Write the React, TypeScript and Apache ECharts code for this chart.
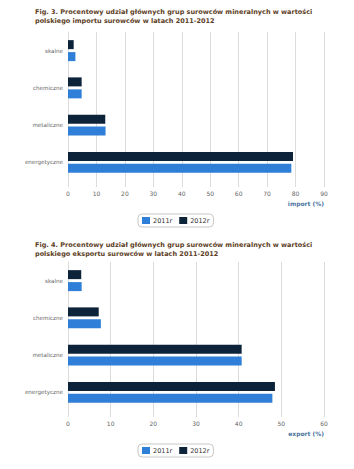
import React, { useEffect, useRef } from "react";
import * as echarts from "echarts";

const categories = ["skalne", "chemiczne", "metaliczne", "energetyczne"];
const seriesNames = ["2011r", "2012r"];
const import2011 = [2.6, 4.8, 13.2, 78.5];
const import2012 = [2.0, 4.8, 13.1, 79.1];
const export2011 = [3.2, 7.7, 40.7, 47.9];
const export2012 = [3.1, 7.2, 40.7, 48.5];
const importTicks = { min: 0, max: 90, interval: 10 };
const exportTicks = { min: 0, max: 60, interval: 10 };
const title1 = "Fig. 3. Procentowy udział głównych grup surowców mineralnych w wartości\npolskiego importu surowców w latach 2011-2012";
const title2 = "Fig. 4. Procentowy udział głównych grup surowców mineralnych w wartości\npolskiego eksportu surowców w latach 2011-2012";

const FONT = "DejaVu Sans";
const C2011 = "#2f7ed8";
const C2012 = "#0d233a";
const GRID = "#dcdcdc";

export default function App() {
  const ref = useRef<HTMLDivElement>(null);
  useEffect(() => {
    document.body.style.margin = "0";
    const chart = echarts.init(ref.current!, null, { renderer: "svg" });
    const xAxisBase = (t: any, gi: number) => ({
      type: "value",
      gridIndex: gi,
      min: t.min,
      max: t.max,
      interval: t.interval,
      axisLine: { show: false },
      axisTick: { show: true, length: 6, lineStyle: { color: GRID } },
      splitLine: { show: true, lineStyle: { color: GRID, width: 1 } },
      axisLabel: { fontFamily: FONT, fontSize: 6, color: "#666", margin: 9 },
    });
    const yAxisBase = (gi: number) => ({
      type: "category",
      gridIndex: gi,
      data: categories,
      inverse: true,
      axisLine: { show: true, lineStyle: { color: GRID } },
      axisTick: { show: false },
      axisLabel: { fontFamily: FONT, fontSize: 5.6, color: "#666", margin: 5 },
    });
    const bar = (name: string, data: number[], color: string, gi: number) => ({
      type: "bar",
      name,
      data,
      xAxisIndex: gi,
      yAxisIndex: gi,
      barWidth: 9,
      barGap: "33%",
      itemStyle: { color },
    });
    const legendBase = (top: number) => ({
      top,
      left: 138,
      orient: "horizontal",
      data: seriesNames,
      icon: "rect",
      itemWidth: 8,
      itemHeight: 7,
      itemGap: 7,
      borderColor: "#c8c8c8",
      borderWidth: 1,
      borderRadius: 4,
      padding: [3, 4, 3, 4],
      textStyle: { fontFamily: FONT, fontSize: 6.5, color: "#333", padding: [0, 0, 0, -2] },
    });
    const titleStyle = { fontFamily: FONT, fontSize: 6.5, fontWeight: "bold", color: "#5c3d24", lineHeight: 8.5 };
    chart.setOption({
      animation: false,
      backgroundColor: "#ffffff",
      title: [
        { text: title1, left: 30, top: 3, textStyle: titleStyle },
        { text: title2, left: 30, top: 236, textStyle: titleStyle },
      ],
      legend: [legendBase(214), legendBase(444)],
      grid: [
        { left: 68, right: 30, top: 32, height: 149 },
        { left: 68, right: 30, top: 262, height: 149 },
      ],
      xAxis: [xAxisBase(importTicks, 0), xAxisBase(exportTicks, 1)],
      yAxis: [yAxisBase(0), yAxisBase(1)],
      series: [
        bar(seriesNames[1], import2012, C2012, 0),
        bar(seriesNames[0], import2011, C2011, 0),
        bar(seriesNames[1], export2012, C2012, 1),
        bar(seriesNames[0], export2011, C2011, 1),
      ],
      graphic: [
        {
          type: "text",
          right: 30,
          top: 200,
          style: { text: "import (%)", fontFamily: FONT, fontSize: 6, fontWeight: "bold", fill: "#4d759e" },
        },
        {
          type: "text",
          right: 30,
          top: 430,
          style: { text: "export (%)", fontFamily: FONT, fontSize: 6, fontWeight: "bold", fill: "#4d759e" },
        },
      ],
    });
    return () => chart.dispose();
  }, []);
  return <div ref={ref} style={{ width: 354, height: 469 }} />;
}
